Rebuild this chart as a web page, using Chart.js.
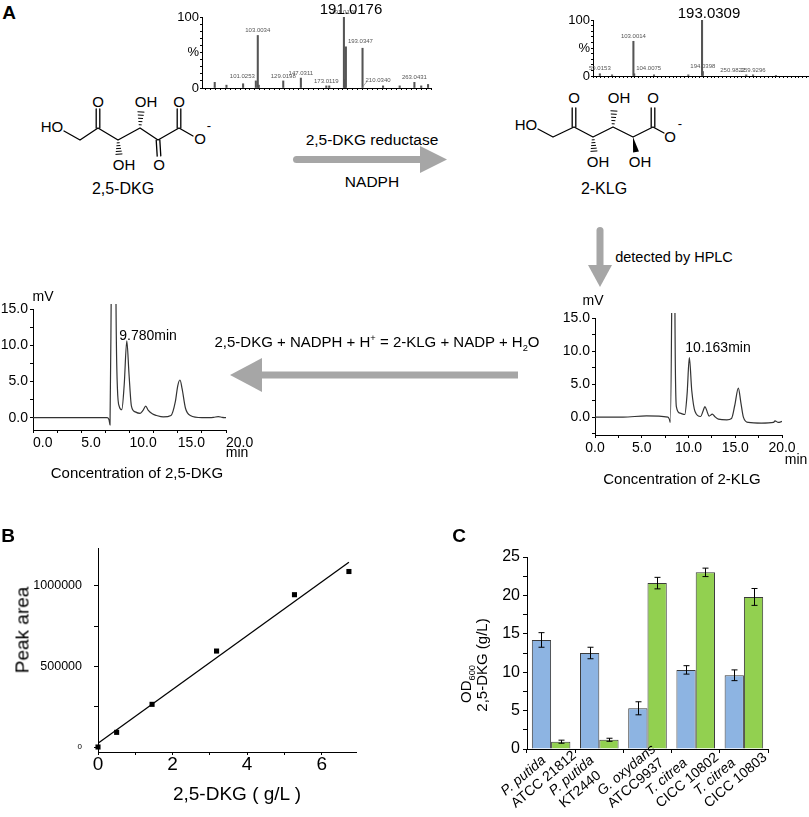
<!DOCTYPE html>
<html>
<head>
<meta charset="utf-8">
<title>2,5-DKG reductase assay</title>
<script src="https://cdn.jsdelivr.net/npm/chart.js@4.4.1/dist/chart.umd.min.js"></script>
<style>
  body { margin: 0; background: #fff; }
  #fig { position: relative; width: 809px; height: 817px; overflow: hidden; background: #fff;
         font-family: "Liberation Sans", Arial, sans-serif; color: #000; }
  #fig canvas { position: absolute; }
  #fig svg { position: absolute; left: 0; top: 0; }
  .t { position: absolute; white-space: nowrap; line-height: 1; transform: translate(-50%, -50%); }
  .t.rot { transform: translate(-50%, -50%) rotate(-90deg); }
  .t sub, .t sup { font-size: 62%; line-height: 0; }
  .pl { font-weight: bold; font-size: 19px; }
</style>
</head>
<body>
<div id="fig">
  <svg id="draw" width="809" height="817"></svg>

  <canvas id="ms1" width="270" height="100" style="left:170px;top:0"></canvas>
  <canvas id="ms2" width="254" height="90" style="left:555px;top:0"></canvas>
  <canvas id="hplc1" width="270" height="200" style="left:0;top:285px"></canvas>
  <canvas id="hplc2" width="254" height="215" style="left:555px;top:285px"></canvas>
  <canvas id="calib" width="400" height="297" style="left:0;top:520px"></canvas>
  <canvas id="strains" width="379" height="297" style="left:430px;top:520px"></canvas>

  <div class="t pl" style="left:9px;top:12px">A</div>
  <div class="t pl" style="left:8px;top:535px">B</div>
  <div class="t pl" style="left:459px;top:535px">C</div>

  <div class="t" style="left:351px;top:8px;font-size:15px">191.0176</div>
  <div class="t" style="left:709px;top:12px;font-size:15px">193.0309</div>

  <div class="t" style="left:123px;top:189px;font-size:16px">2,5-DKG</div>
  <div class="t" style="left:604px;top:189px;font-size:16px">2-KLG</div>
  <div class="t" style="left:372px;top:140px;font-size:15.5px">2,5-DKG reductase</div>
  <div class="t" style="left:372px;top:182px;font-size:15.5px">NADPH</div>
  <div class="t" style="left:674px;top:257px;font-size:14.5px">detected by HPLC</div>
  <div class="t" style="left:377px;top:341px;font-size:15px">2,5-DKG + NADPH + H<sup>+</sup> = 2-KLG + NADP + H<sub>2</sub>O</div>

  <div class="t" style="left:43px;top:296px;font-size:14px">mV</div>
  <div class="t" style="left:148px;top:335px;font-size:14px">9.780min</div>
  <div class="t" style="left:237px;top:452px;font-size:14px">min</div>
  <div class="t" style="left:137px;top:472px;font-size:15px">Concentration of 2,5-DKG</div>

  <div class="t" style="left:593px;top:300px;font-size:14px">mV</div>
  <div class="t" style="left:718px;top:347px;font-size:14px">10.163min</div>
  <div class="t" style="left:796px;top:459px;font-size:14px">min</div>
  <div class="t" style="left:682px;top:478px;font-size:15px">Concentration of 2-KLG</div>

  <div class="t rot" style="left:22px;top:630px;font-size:19px">Peak area</div>
  <div class="t" style="left:237px;top:793px;font-size:19px">2,5-DKG ( g/L )</div>

  <div class="t rot" style="left:465px;top:684px;font-size:15px">OD<sub>600</sub></div>
  <div class="t rot" style="left:481px;top:665px;font-size:15px">2,5-DKG (g/L)</div>
</div>

<script>
var FONT = '"Liberation Sans", Arial, sans-serif';
Chart.defaults.font.family = FONT;
Chart.defaults.color = '#000';

// ---- mass spectra (m/z, relative abundance %) ----
var ms1Mz  = [59, 71, 88, 101.0253, 103.0034, 104, 129.0198, 147.0311, 173.0119, 176, 191.0176, 192, 193.0347, 210.0340, 231, 248, 263.0431, 270, 277];
var ms1Pct = [8, 4, 6, 10, 74, 4, 10, 14, 3, 3, 100, 12, 58, 56, 3, 3, 8, 3, 5];
var ms1Labels = ['101.0253', '103.0034', '129.0198', '147.0311', '173.0119', '191.0176', '193.0347', '210.0340', '263.0431'];
var ms1LabelSide = ['r', 'c', 'c', 'c', 'c', 'c', 'l', 'b', 'c'];

var ms2Mz  = [59.0153, 75, 103.0014, 104.0075, 130, 175, 193.0309, 194.0398, 250.9822, 259.9296, 290];
var ms2Pct = [4, 2, 62, 4, 2, 2, 100, 8, 2, 2, 1];
var ms2Labels = ['59.0153', '103.0014', '104.0075', '194.0398', '250.9822', '259.9296'];
var ms2LabelSide = ['c', 'c', 'l', 'c', 'r', 'c'];

var pctTicks = [0, 10, 20, 30, 40, 50, 60, 70, 80, 90, 100];

// ---- HPLC traces (min, mV) ----
var hplc1Min = [0, 3, 6, 7.7, 7.88, 7.98, 8.1, 8.3, 8.45, 8.6, 8.75, 8.95, 9.2, 9.45, 9.72, 9.95, 10.2, 10.6, 11.1, 11.4, 11.68, 11.95, 12.4, 12.8, 13.5, 14.3, 14.75, 15.0, 15.23, 15.45, 15.8, 16.3, 17.5, 18.7, 19.2, 19.6, 20];
var hplc1MV  = [0, 0, 0, 0, -0.3, -1.0, 16, 60, 60, 16, 4, 1.5, 1.1, 4.5, 10.6, 6, 1.6, 0.8, 0.6, 1.0, 1.6, 1.0, 0.5, 0.3, 0.1, 0.3, 2.2, 4.4, 5.2, 4.0, 1.3, 0.3, 0, 0.05, 0.15, 0.05, 0];

var hplc2Min = [0, 3, 5.5, 7.8, 7.95, 8.05, 8.2, 8.35, 8.45, 8.55, 8.7, 9.1, 9.6, 9.85, 10.09, 10.35, 10.7, 11.3, 11.55, 11.76, 12.0, 12.2, 12.55, 12.8, 13.2, 14.1, 14.6, 14.95, 15.33, 15.6, 15.87, 16.4, 17.8, 19.1, 19.25, 19.6, 20];
var hplc2MV  = [0, 0, 0.2, 0, -0.3, -0.8, 16, 60, 60, 16, 1.6, 0.6, 0.4, 3.5, 9.0, 4, 0.85, 0.1, 0.9, 1.6, 0.8, 0.15, 0.45, 0.1, -0.3, -0.4, -0.2, 1.8, 4.4, 2.2, 0, -0.8, -0.9, -0.8, -0.55, -0.8, -0.65];

var hplcTicksX = [0, 2.5, 5, 7.5, 10, 12.5, 15, 17.5, 20];
var hplc1TicksY = [0, 2.5, 5, 7.5, 10, 12.5, 15];
var hplc2TicksY = [-2.5, 0, 2.5, 5, 7.5, 10, 12.5, 15];

// ---- standard curve (B) ----
var dkgConc   = [0, 0.5, 1.45, 3.18, 5.27, 6.73];
var peakArea  = [0, 91000, 265000, 596000, 946000, 1090000];
var fitConc   = [0, 6.73];
var fitArea   = [23000, 1147000];
var calibTicksX = [0, 1, 2, 3, 4, 5, 6];
var calibTicksY = [0, 250000, 500000, 750000, 1000000];

// ---- strains (C) ----
var strainSpecies = ['P. putida', 'P. putida', 'G. oxydans', 'T. citrea', 'T. citrea'];
var strainIds     = ['ATCC 21812', 'KT2440', 'ATCC9937', 'CICC 10802', 'CICC 10803'];
var od600     = [14.2, 12.5, 5.3, 10.3, 9.6];
var od600Err  = [0.95, 0.75, 0.85, 0.55, 0.7];
var dkgTiter  = [0.95, 1.2, 21.6, 23.0, 19.8];
var dkgErr    = [0.2, 0.2, 0.75, 0.55, 1.1];
var strainTicksY = [0, 2.5, 5, 7.5, 10, 12.5, 15, 17.5, 20, 22.5, 25];


// linear axis with fixed box size and explicit ticks
function axis(o) {
  return {
    type: 'linear', min: o.min, max: o.max, offset: false,
    afterBuildTicks: function (s) { s.ticks = o.ticks.map(function (v) { return { value: v }; }); },
    afterFit: function (s) {
      if (o.w != null) s.width = o.w;
      if (o.h != null) s.height = o.h;
    },
    border: { display: true, color: '#000', width: 1 },
    grid: { display: true, drawOnChartArea: false, drawTicks: true, offset: false,
            tickLength: o.tick || 3, color: '#000', lineWidth: 1 },
    ticks: { autoSkip: false, maxRotation: 0, minRotation: 0,
             padding: o.pad == null ? 2 : o.pad, align: o.align || 'center', color: '#000',
             font: o.font || { family: FONT, size: o.size || 12 },
             callback: o.label || function () { return ''; } }
  };
}

function baseOptions(pad, scales) {
  return {
    responsive: false, maintainAspectRatio: false, animation: false,
    layout: { padding: pad },
    plugins: { legend: { display: false }, tooltip: { enabled: false }, title: { display: false } },
    scales: scales
  };
}

function pctLabel(v) {
  if (v === 100) return '100';
  if (v === 50) return '%';
  if (v === 0) return '0';
  return '';
}

function hplcLabel(v) { return v % 5 === 0 ? v.toFixed(1) : ''; }

function msTicks(min, max) {
  var t = [];
  for (var v = Math.ceil(min / 5) * 5; v <= max; v += 5) t.push(v);
  return t;
}

// small m/z labels next to the peaks
function peakLabels(mz, pct, labels, side) {
  return {
    id: 'peakLabels',
    afterDatasetsDraw: function (chart) {
      var ctx = chart.ctx, xs = chart.scales.x, ys = chart.scales.y;
      ctx.save();
      ctx.font = '6px ' + FONT;
      ctx.fillStyle = '#555';
      ctx.strokeStyle = '#777';
      ctx.lineWidth = 0.6;
      ctx.textBaseline = 'bottom';
      for (var i = 0; i < labels.length; i++) {
        var m = parseFloat(labels[i]);
        var k = mz.indexOf(m);
        var x = xs.getPixelForValue(m);
        var y = ys.getPixelForValue(k >= 0 ? pct[k] : 0) - 2;
        if (side[i] === 'l') { ctx.textAlign = 'left'; ctx.fillText(labels[i], x + 2, y); }
        else if (side[i] === 'r') { ctx.textAlign = 'right'; ctx.fillText(labels[i], x - 1, y); }
        else if (side[i] === 'b') {
          var yb = ys.getPixelForValue(0);
          ctx.beginPath(); ctx.moveTo(x, yb - 1); ctx.lineTo(x + 4, yb - 6); ctx.stroke();
          ctx.textAlign = 'left'; ctx.fillText(labels[i], x + 3, yb - 5);
        }
        else { ctx.textAlign = 'center'; ctx.fillText(labels[i], x, y); }
      }
      ctx.restore();
    }
  };
}

function pairs(xs, ys) { return xs.map(function (x, i) { return { x: x, y: ys[i] }; }); }

// ---- A: mass spectra ----
new Chart(document.getElementById('ms1'), {
  type: 'bar',
  data: { datasets: [{ data: pairs(ms1Mz, ms1Pct), backgroundColor: '#555', barThickness: 1.4 }] },
  options: baseOptions({ top: 17, right: 9, left: 0, bottom: 0 }, {
    x: axis({ min: 46, max: 280, ticks: msTicks(46, 280), h: 12, tick: 2 }),
    y: axis({ min: 0, max: 100, ticks: pctTicks, label: pctLabel, w: 32, size: 13, tick: 2, pad: 1 })
  }),
  plugins: [peakLabels(ms1Mz, ms1Pct, ms1Labels, ms1LabelSide)]
});

new Chart(document.getElementById('ms2'), {
  type: 'bar',
  data: { datasets: [{ data: pairs(ms2Mz, ms2Pct), backgroundColor: '#555', barThickness: 1.4 }] },
  options: baseOptions({ top: 20, right: 1, left: 0, bottom: 0 }, {
    x: axis({ min: 50, max: 332, ticks: msTicks(50, 332), h: 14, tick: 2 }),
    y: axis({ min: 0, max: 100, ticks: pctTicks, label: pctLabel, w: 38, size: 13, tick: 2, pad: 1 })
  }),
  plugins: [peakLabels(ms2Mz, ms2Pct, ms2Labels, ms2LabelSide)]
});

// ---- A: HPLC chromatograms ----
function trace(xs, ys) {
  return {
    data: pairs(xs, ys), borderColor: '#333', borderWidth: 1.2, pointRadius: 0,
    cubicInterpolationMode: 'monotone', fill: false,
    clip: { left: 0, top: 5, right: 0, bottom: 0 }
  };
}

new Chart(document.getElementById('hplc1'), {
  type: 'line',
  data: { datasets: [trace(hplc1Min, hplc1MV)] },
  options: baseOptions({ top: 24, right: 44, left: 0, bottom: 0 }, {
    x: axis({ min: 0, max: 20, ticks: hplcTicksX, label: hplcLabel, h: 55, size: 14, tick: 3, align: 'start' }),
    y: axis({ min: -1.7, max: 15, ticks: hplc1TicksY, label: hplcLabel, w: 33, size: 14, tick: 3 })
  })
});

new Chart(document.getElementById('hplc2'), {
  type: 'line',
  data: { datasets: [trace(hplc2Min, hplc2MV)] },
  options: baseOptions({ top: 33, right: 27, left: 0, bottom: 0 }, {
    x: axis({ min: 0, max: 20, ticks: hplcTicksX, label: hplcLabel, h: 65, size: 14, tick: 3 }),
    y: axis({ min: -2.7, max: 15, ticks: hplc2TicksY, label: hplcLabel, w: 40, size: 14, tick: 3 })
  })
});

// ---- B: standard curve ----
new Chart(document.getElementById('calib'), {
  type: 'scatter',
  data: {
    datasets: [
      { data: pairs(dkgConc, peakArea), pointStyle: 'rect', pointRadius: 3.6,
        backgroundColor: '#000', borderColor: '#000', borderWidth: 0, clip: false },
      { data: pairs(fitConc, fitArea), showLine: true, borderColor: '#000', borderWidth: 1.3,
        pointRadius: 0, fill: false }
    ]
  },
  options: baseOptions({ top: 28, right: 44, left: 0, bottom: 0 }, {
    x: axis({ min: 0, max: 6.92, ticks: calibTicksX, h: 65, size: 19, tick: 3, pad: -2,
              label: function (v) { return v % 2 === 0 ? String(v) : ''; } }),
    y: axis({ min: -31000, max: 1236000, ticks: calibTicksY, w: 98, tick: 4, pad: 12,
              font: function (c) { return { family: FONT, size: c.tick && c.tick.value === 0 ? 8 : 12.5 }; },
              label: function (v) { return v % 500000 === 0 ? String(v) : ''; } })
  })
});

// ---- C: OD600 and 2,5-DKG by strain ----
var errorBars = {
  id: 'errorBars',
  afterDatasetsDraw: function (chart) {
    var ctx = chart.ctx, ys = chart.scales.y;
    ctx.save();
    ctx.strokeStyle = '#000';
    ctx.lineWidth = 1;
    chart.data.datasets.forEach(function (ds, di) {
      var meta = chart.getDatasetMeta(di);
      meta.data.forEach(function (bar, j) {
        var v = ds.data[j], e = ds.errors[j];
        var yt = ys.getPixelForValue(v + e), yb = ys.getPixelForValue(v - e);
        var x = Math.round(bar.x) + 0.5;
        ctx.beginPath();
        ctx.moveTo(x, yt); ctx.lineTo(x, yb);
        ctx.moveTo(x - 3, yt); ctx.lineTo(x + 3, yt);
        ctx.moveTo(x - 3, yb); ctx.lineTo(x + 3, yb);
        ctx.stroke();
      });
    });
    ctx.restore();
  }
};

var strainLabels = {
  id: 'strainLabels',
  afterDraw: function (chart) {
    var ctx = chart.ctx, xs = chart.scales.x;
    ctx.save();
    ctx.fillStyle = '#000';
    ctx.textBaseline = 'middle';
    ctx.textAlign = 'left';
    for (var i = 0; i < strainSpecies.length; i++) {
      var cx = xs.getPixelForValue(i);
      ctx.save();
      ctx.translate(cx - 48, xs.top + 44);
      ctx.rotate(-40 * Math.PI / 180);
      ctx.font = 'italic 14px ' + FONT;
      ctx.fillText(strainSpecies[i], 0, 0);
      ctx.font = '14px ' + FONT;
      ctx.fillText(strainIds[i], 0, 16);
      ctx.restore();
    }
    ctx.restore();
  }
};

new Chart(document.getElementById('strains'), {
  type: 'bar',
  data: {
    labels: strainSpecies.map(function (s, i) { return s + ' ' + strainIds[i]; }),
    datasets: [
      { label: 'OD600', data: od600, errors: od600Err, backgroundColor: '#8db4e2',
        borderColor: '#3a3a3a', borderWidth: 1, categoryPercentage: 0.8, barPercentage: 1.0 },
      { label: '2,5-DKG (g/L)', data: dkgTiter, errors: dkgErr, backgroundColor: '#92d050',
        borderColor: '#3a3a3a', borderWidth: 1, categoryPercentage: 0.8, barPercentage: 1.0 }
    ]
  },
  options: baseOptions({ top: 37, right: 41, left: 0, bottom: 0 }, {
    x: {
      type: 'category', offset: true,
      afterFit: function (s) { s.height = 68; },
      border: { display: true, color: '#000', width: 1 },
      grid: { display: true, drawOnChartArea: false, offset: true, tickLength: 4, color: '#000' },
      ticks: { display: false }
    },
    y: axis({ min: 0, max: 25, ticks: strainTicksY, w: 97, size: 16, tick: 4, pad: 3,
              label: function (v) { return v % 5 === 0 ? String(v) : ''; } })
  }),
  plugins: [errorBars, strainLabels]
});

// ---- structures and arrows ----
function ln(x1, y1, x2, y2, w) {
  return '<line x1="' + x1 + '" y1="' + y1 + '" x2="' + x2 + '" y2="' + y2 + '" stroke-width="' + (w || 1.3) + '"/>';
}
function dbl(x1, y1, x2, y2) {
  var dx = x2 - x1, dy = y2 - y1, L = Math.sqrt(dx * dx + dy * dy);
  var nx = -dy / L * 1.8, ny = dx / L * 1.8;
  return ln(x1 + nx, y1 + ny, x2 + nx, y2 + ny) + ln(x1 - nx, y1 - ny, x2 - nx, y2 - ny);
}
function hashed(x1, y1, x2, y2) {
  var s = '', dx = x2 - x1, dy = y2 - y1, L = Math.sqrt(dx * dx + dy * dy);
  var nx = -dy / L, ny = dx / L;
  for (var k = 1; k <= 5; k++) {
    var t = k / 5.3, h = 0.6 + 2.6 * t, cx = x1 + dx * t, cy = y1 + dy * t;
    s += ln(cx - nx * h, cy - ny * h, cx + nx * h, cy + ny * h, 1);
  }
  return s;
}
function wedge(x1, y1, x2, y2) {
  var dx = x2 - x1, dy = y2 - y1, L = Math.sqrt(dx * dx + dy * dy);
  var nx = -dy / L * 3, ny = dx / L * 3;
  return '<polygon fill="#000" stroke="none" points="' + x1 + ',' + y1 + ' ' + (x2 + nx) + ',' + (y2 + ny) + ' ' + (x2 - nx) + ',' + (y2 - ny) + '"/>';
}
function atom(txt, x, y, size) {
  return '<text x="' + x + '" y="' + y + '" font-size="' + (size || 15) + '" text-anchor="middle" dominant-baseline="central" stroke="none" fill="#000">' + txt + '</text>';
}

var s = '';
s += '<g fill="#a6a6a6">';
s += '<rect x="293" y="156" width="132" height="7" rx="3.5"/><polygon points="420,146 447,159.5 420,173"/>';
s += '<rect x="596.5" y="227" width="7" height="42" rx="3.5"/><polygon points="588,265 612,265 600,287"/>';
s += '<rect x="256" y="371.5" width="262" height="7"/><polygon points="262,358 230,375 262,392"/>';
s += '</g>';

s += '<g stroke="#000" fill="none" stroke-linecap="round" stroke-linejoin="round" font-family=\'' + FONT + '\'>';
// 2,5-DKG
s += '<polyline stroke-width="1.3" points="64,131 80,140 98,128 118,140 140,128 158,140 179,128 193,136"/>';
s += dbl(98, 128, 98, 109) + hashed(118, 140, 119, 155) + hashed(140, 128, 141, 111);
s += dbl(158, 140, 159, 156) + dbl(179, 128, 179, 109);
s += atom('HO', 52, 126) + atom('O', 98, 101) + atom('OH', 124, 164) + atom('OH', 146, 101);
s += atom('O', 159, 164) + atom('O', 179, 101) + atom('O', 200, 138) + atom('-', 209, 125, 13);
// 2-KLG
s += '<polyline stroke-width="1.3" points="538,129 553,137 574,127 593,137 613,127 633,137 653,127 664,133"/>';
s += dbl(574, 127, 574, 108) + hashed(593, 137, 594, 152) + hashed(613, 127, 614, 110);
s += wedge(633, 137, 636, 152) + dbl(653, 127, 653, 108);
s += atom('HO', 526, 124) + atom('O', 574, 97) + atom('OH', 598, 161) + atom('OH', 619, 97);
s += atom('OH', 640, 161) + atom('O', 653, 97) + atom('O', 670, 136) + atom('-', 680, 123, 13);
s += '</g>';
document.getElementById('draw').innerHTML = s;
</script>
</body>
</html>
